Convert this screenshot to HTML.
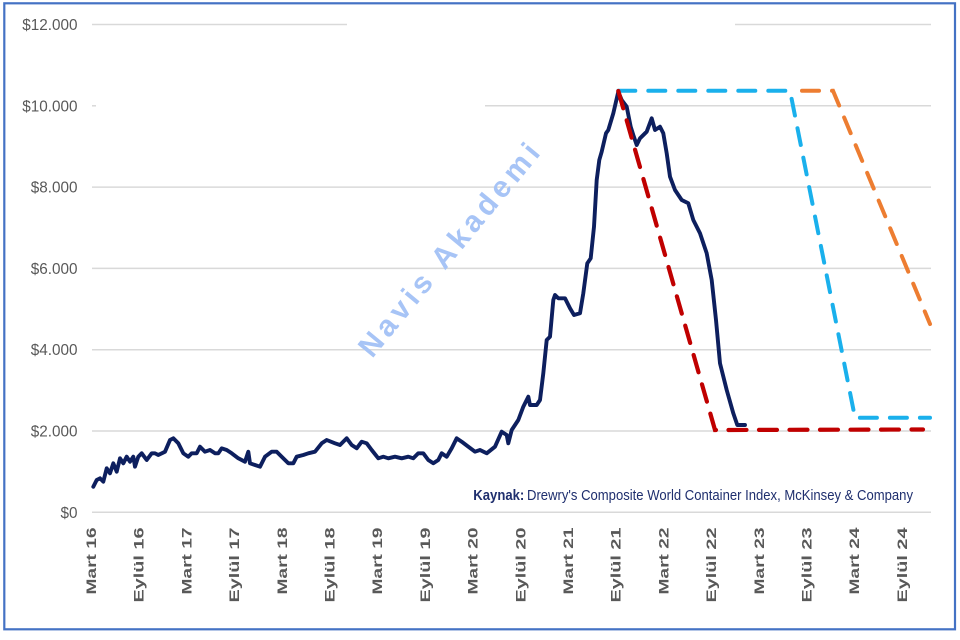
<!DOCTYPE html>
<html><head><meta charset="utf-8"><style>
html,body{margin:0;padding:0;background:#fff;}
svg{display:block;}
</style></head><body>
<svg width="960" height="640" viewBox="0 0 960 640" xmlns="http://www.w3.org/2000/svg">
<rect x="0" y="0" width="960" height="640" fill="#fff"/>
<rect x="4.3" y="3.3" width="950.7" height="626" fill="none" stroke="#4472c4" stroke-width="2.2"/>
<g stroke="#d9d9d9" stroke-width="1.5">
<line x1="92" y1="24.5" x2="347" y2="24.5"/>
<line x1="735" y1="24.5" x2="931" y2="24.5"/>
<line x1="92" y1="105.8" x2="96" y2="105.8"/>
<line x1="485" y1="105.8" x2="931" y2="105.8"/>
<line x1="92" y1="187.1" x2="931" y2="187.1"/>
<line x1="92" y1="268.4" x2="931" y2="268.4"/>
<line x1="92" y1="349.7" x2="931" y2="349.7"/>
<line x1="92" y1="431" x2="931" y2="431"/>
<line x1="92" y1="512.3" x2="931" y2="512.3"/>
</g>
<g font-family="Liberation Sans, Arial, sans-serif" font-size="15.3" fill="#595959" text-anchor="end">
<text x="77.5" y="30">$12.000</text>
<text x="77.5" y="111.3">$10.000</text>
<text x="77.5" y="192.6">$8.000</text>
<text x="77.5" y="273.9">$6.000</text>
<text x="77.5" y="355.2">$4.000</text>
<text x="77.5" y="436.5">$2.000</text>
<text x="77.5" y="517.8">$0</text>
</g>
<g font-family="Liberation Sans, Arial, sans-serif" font-size="14" font-weight="bold" fill="#595959" text-anchor="end">
<text transform="translate(96,527.5) rotate(-90)" textLength="67" lengthAdjust="spacingAndGlyphs">Mart 16</text>
<text transform="translate(143.7,527.5) rotate(-90)" textLength="75" lengthAdjust="spacingAndGlyphs">Eylül 16</text>
<text transform="translate(191.4,527.5) rotate(-90)" textLength="67" lengthAdjust="spacingAndGlyphs">Mart 17</text>
<text transform="translate(239.1,527.5) rotate(-90)" textLength="75" lengthAdjust="spacingAndGlyphs">Eylül 17</text>
<text transform="translate(286.8,527.5) rotate(-90)" textLength="67" lengthAdjust="spacingAndGlyphs">Mart 18</text>
<text transform="translate(334.5,527.5) rotate(-90)" textLength="75" lengthAdjust="spacingAndGlyphs">Eylül 18</text>
<text transform="translate(382.2,527.5) rotate(-90)" textLength="67" lengthAdjust="spacingAndGlyphs">Mart 19</text>
<text transform="translate(429.9,527.5) rotate(-90)" textLength="75" lengthAdjust="spacingAndGlyphs">Eylül 19</text>
<text transform="translate(477.6,527.5) rotate(-90)" textLength="67" lengthAdjust="spacingAndGlyphs">Mart 20</text>
<text transform="translate(525.3,527.5) rotate(-90)" textLength="75" lengthAdjust="spacingAndGlyphs">Eylül 20</text>
<text transform="translate(573,527.5) rotate(-90)" textLength="67" lengthAdjust="spacingAndGlyphs">Mart 21</text>
<text transform="translate(620.7,527.5) rotate(-90)" textLength="75" lengthAdjust="spacingAndGlyphs">Eylül 21</text>
<text transform="translate(668.4,527.5) rotate(-90)" textLength="67" lengthAdjust="spacingAndGlyphs">Mart 22</text>
<text transform="translate(716.1,527.5) rotate(-90)" textLength="75" lengthAdjust="spacingAndGlyphs">Eylül 22</text>
<text transform="translate(763.8,527.5) rotate(-90)" textLength="67" lengthAdjust="spacingAndGlyphs">Mart 23</text>
<text transform="translate(811.5,527.5) rotate(-90)" textLength="75" lengthAdjust="spacingAndGlyphs">Eylül 23</text>
<text transform="translate(859.2,527.5) rotate(-90)" textLength="67" lengthAdjust="spacingAndGlyphs">Mart 24</text>
<text transform="translate(906.9,527.5) rotate(-90)" textLength="75" lengthAdjust="spacingAndGlyphs">Eylül 24</text>
</g>
<text transform="translate(449,250) rotate(-50.5)" x="0" y="10" text-anchor="middle" font-family="Liberation Sans, Arial, sans-serif" font-size="30" font-weight="bold" fill="#a7c4f6" textLength="266" lengthAdjust="spacing">Navis Akademi</text>
<text x="473.3" y="500" font-family="Liberation Sans, Arial, sans-serif" font-size="14.5" font-weight="bold" fill="#1f2f6e" textLength="51" lengthAdjust="spacingAndGlyphs">Kaynak:</text>
<text x="527" y="500" font-family="Liberation Sans, Arial, sans-serif" font-size="14.5" fill="#1f2f6e" textLength="386" lengthAdjust="spacingAndGlyphs">Drewry's Composite World Container Index, McKinsey &amp; Company</text>
<polyline fill="none" stroke="#0d1f5e" stroke-width="3.9" stroke-linejoin="round" stroke-linecap="round" points="93.3,486.7 96.7,480 100,478.3 103.3,481.7 106.7,468.3 110,473.3 113.3,463.3 116.7,471.7 120,458.3 123.3,463.3 126.7,456.7 130,461.7 133.3,456.7 135,466.7 138.3,456.7 141.7,453.3 146.7,460 151.7,453.3 155,453.3 158.3,455 165,451.7 170,440 173.3,438.3 178.3,443.3 183.3,453.3 188.3,456.7 191.7,453.3 196.7,453.3 200,446.7 205,451.7 210,450 215,453.3 218.3,453.3 221.7,448.3 226.7,450 231.7,453.3 238.3,458.3 245,461.7 248.3,451.7 250,463.3 255,465 260,466.7 265,456.7 271.7,451.7 276.7,451.7 281.7,456.7 288.3,463.3 293.3,463.3 296.7,456.7 303.3,455 308.3,453.3 315,451.7 321.7,443.3 326.7,440 335,443.3 340,445 346.7,438.3 351.7,445 356.7,448.3 361.7,441.7 366.7,443.3 371.7,450 378.3,458.3 383.3,456.7 388.3,458.3 395,456.7 401.7,458.3 408.3,456.7 413.3,458.3 418.3,453.3 423.3,453.3 428.3,460 433.3,463.3 438.3,460 441.7,453.3 446.7,456.7 451.7,448.3 456.7,438.3 461.7,441.7 468.3,446.7 475,451.7 480,450 486.7,453.3 495,446.7 501.7,431.7 506.7,435 508.3,443.3 511.7,430 518.3,420 523.3,406.7 528.3,396.7 530,405 536.7,405 540,400 543.3,373.3 546.7,340 550,336.7 553.3,300 555,295 558.3,298.3 565,298.3 570,308.3 574,315 580,313.3 583.3,293.3 587.3,263.3 590.7,258.3 594,226.7 596.7,180 599.3,160 601.7,151.7 606,133.3 608.3,130 613.3,113.3 618.3,91.7 621.7,100 626.7,106.7 630.7,126.7 633.3,135 636.7,145 640,138.3 646.7,131.7 651.7,118.3 655,130 660,126.7 663.3,133.3 666.7,153.3 670,176.7 675,190 681.7,200 688.3,203.3 693.3,220 700,233.3 706.7,253.3 711.7,280 716,320 720,363.3 726.7,390 733.3,413.3 737.3,425 745,425"/>
<polyline fill="none" stroke="#ed7d31" stroke-width="4" stroke-dasharray="17 13" stroke-linecap="round" points="802,90.7 833,90.7 930,324"/>
<polyline fill="none" stroke="#1ab0ec" stroke-width="4" stroke-dasharray="17 13" stroke-linecap="round" points="618.3,90.7 790,90.7 855,417.7 930,417.7"/>
<polyline fill="none" stroke="#c00000" stroke-width="4.2" stroke-dasharray="18 12.5" stroke-linecap="round" points="618.3,91 715,430 923,429.5"/>
</svg>
</body></html>
